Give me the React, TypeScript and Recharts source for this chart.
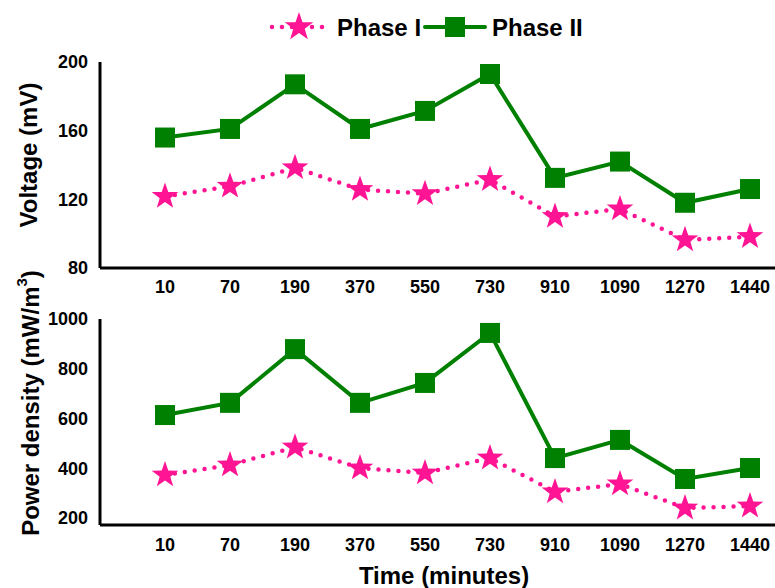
import React from 'react';
import { LineChart, Line, XAxis, YAxis, Label } from 'recharts';

const times = ['10', '70', '190', '370', '550', '730', '910', '1090', '1270', '1440'];
const voltagePhase1 = [121.7, 127.6, 138.4, 125.7, 123.3, 131.5, 110, 114.4, 96.4, 98.3];
const voltagePhase2 = [156, 161, 187, 161, 171.5, 193, 132.5, 142, 118, 126];
const powerPhase1 = [373, 413, 485, 401, 381, 441, 305, 337, 240, 248];
const powerPhase2 = [614, 663, 879, 663, 743, 944, 441, 514, 357, 401];
const voltageTicks = [80, 120, 160, 200];
const powerTicks = [200, 400, 600, 800, 1000];

const PINK = '#ff1493';
const GREEN = '#008000';
const FONT = '"Liberation Sans", Arial, sans-serif';

const voltageData = times.map((t, i) => ({ time: t, p1: voltagePhase1[i], p2: voltagePhase2[i] }));
const powerData = times.map((t, i) => ({ time: t, p1: powerPhase1[i], p2: powerPhase2[i] }));

const starPoints = (cx: number, cy: number, R: number, r: number) => {
  const pts: string[] = [];
  for (let i = 0; i < 10; i++) {
    const rad = i % 2 === 0 ? R : r;
    const a = -Math.PI / 2 + (i * Math.PI) / 5;
    pts.push(`${cx + rad * Math.cos(a)},${cy + rad * Math.sin(a)}`);
  }
  return pts.join(' ');
};

const StarDot = (props: any) => {
  const { cx, cy, index } = props;
  if (cx == null || cy == null) return <g key={index} />;
  return <polygon key={index} points={starPoints(cx, cy, 14, 5.6)} fill={PINK} />;
};

const SquareDot = (props: any) => {
  const { cx, cy, index } = props;
  if (cx == null || cy == null) return <g key={index} />;
  return <rect key={index} x={cx - 10} y={cy - 10} width={20} height={20} fill={GREEN} />;
};

const tickStyle = { fontSize: 18, fontWeight: 700, fill: '#000', fontFamily: FONT };
const axisLine = { stroke: '#000', strokeWidth: 3 };

const Legend = () => (
  <svg width={775} height={50} style={{ position: 'absolute', left: 0, top: 0 }}>
    <line x1={272} y1={27} x2={327} y2={27} stroke={PINK} strokeWidth={4.5} strokeDasharray="0 10" strokeLinecap="round" />
    <polygon points={starPoints(299, 27, 15, 6)} fill={PINK} />
    <text x={337} y={36} fontSize={24} fontWeight={700} fontFamily={FONT} fill="#000">Phase I</text>
    <line x1={425} y1={27} x2={485} y2={27} stroke={GREEN} strokeWidth={4} strokeLinecap="round" />
    <rect x={445} y={17} width={20} height={20} fill={GREEN} />
    <text x={492} y={36} fontSize={24} fontWeight={700} fontFamily={FONT} fill="#000">Phase II</text>
  </svg>
);

export default function App() {
  return (
    <div style={{ position: 'absolute', left: 0, top: 0, width: 775, height: 588, background: '#fff', fontFamily: FONT }}>
      <Legend />
      <div style={{ position: 'absolute', left: 0, top: 0 }}>
        <LineChart width={775} height={300} data={voltageData} margin={{ top: 62, right: 0, bottom: 0, left: 0 }}>
          <XAxis dataKey="time" height={32} scale="point" padding={{ left: 65, right: 25 }} axisLine={axisLine} tickLine={false} tick={tickStyle} tickMargin={6} interval={0} />
          <YAxis width={100} domain={[80, 200]} ticks={voltageTicks} axisLine={axisLine} tickLine={false} tick={tickStyle} tickMargin={6} interval={0}>
            <Label
              content={() => (
                <text x={28} y={155} transform="rotate(-90 28 155)" textAnchor="middle" dominantBaseline="central" fontSize={24} fontWeight={700} fontFamily={FONT} fill="#000">
                  Voltage (mV)
                </text>
              )}
            />
          </YAxis>
          <Line type="linear" dataKey="p1" stroke={PINK} strokeWidth={4.5} strokeDasharray="0 10" strokeLinecap="round" dot={StarDot} activeDot={false} isAnimationActive={false} />
          <Line type="linear" dataKey="p2" stroke={GREEN} strokeWidth={4} dot={SquareDot} activeDot={false} isAnimationActive={false} />
        </LineChart>
      </div>
      <div style={{ position: 'absolute', left: 0, top: 250 }}>
        <LineChart width={775} height={338} data={powerData} margin={{ top: 69, right: 0, bottom: 33, left: 0 }}>
          <XAxis dataKey="time" height={30} scale="point" padding={{ left: 65, right: 25 }} axisLine={axisLine} tickLine={false} tick={tickStyle} tickMargin={7} interval={0}>
            <Label
              content={() => (
                <text x={444} y={325} textAnchor="middle" dominantBaseline="central" fontSize={24} fontWeight={700} fontFamily={FONT} fill="#000">
                  Time (minutes)
                </text>
              )}
            />
          </XAxis>
          <YAxis width={100} domain={[172, 1000]} ticks={powerTicks} axisLine={axisLine} tickLine={false} tick={tickStyle} tickMargin={6} interval={0}>
            <Label
              content={() => (
                <text x={30} y={153} transform="rotate(-90 30 153)" textAnchor="middle" dominantBaseline="central" fontSize={24} fontWeight={700} fontFamily={FONT} fill="#000">
                  Power density (mW/m<tspan fontSize={15} dy={-9}>3</tspan><tspan dy={9}>)</tspan>
                </text>
              )}
            />
          </YAxis>
          <Line type="linear" dataKey="p1" stroke={PINK} strokeWidth={4.5} strokeDasharray="0 10" strokeLinecap="round" dot={StarDot} activeDot={false} isAnimationActive={false} />
          <Line type="linear" dataKey="p2" stroke={GREEN} strokeWidth={4} dot={SquareDot} activeDot={false} isAnimationActive={false} />
        </LineChart>
      </div>
    </div>
  );
}
